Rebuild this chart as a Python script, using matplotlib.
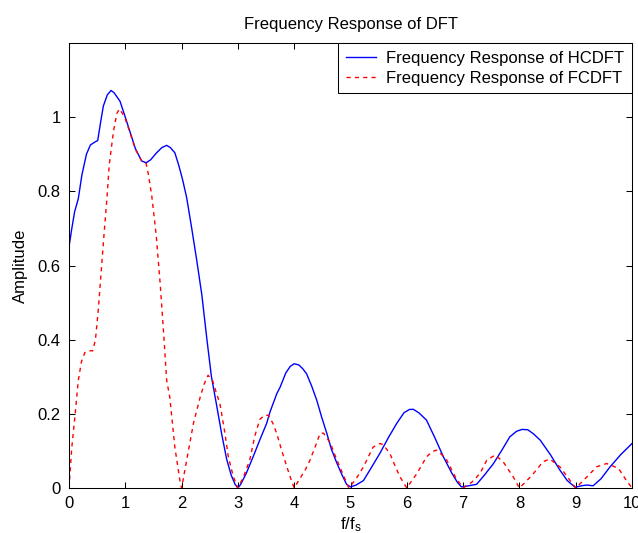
import matplotlib
matplotlib.use("Agg")
import matplotlib.pyplot as plt

plt.rcParams['font.family'] = ['Liberation Sans', 'DejaVu Sans']
plt.rcParams['mathtext.fontset'] = 'custom'
plt.rcParams['mathtext.rm'] = 'Liberation Sans'
plt.rcParams['mathtext.it'] = 'Liberation Sans'

# HCDFT response (blue, solid)
hcdft_f = [0.00, 0.05, 0.10, 0.165, 0.23, 0.31, 0.38, 0.46, 0.51, 0.56, 0.61, 0.68,
           0.746, 0.80, 0.906, 1.00, 1.08, 1.18, 1.29, 1.37, 1.45, 1.55, 1.65, 1.735,
           1.80, 1.88, 1.95, 2.02, 2.09, 2.18, 2.27, 2.36, 2.45, 2.53, 2.62, 2.71,
           2.80, 2.88, 2.95, 3.00, 3.05, 3.15, 3.27, 3.39, 3.51, 3.57, 3.69, 3.75,
           3.85, 3.93, 4.00, 4.08, 4.15, 4.22, 4.31, 4.40, 4.49, 4.58, 4.66, 4.75,
           4.85, 4.93, 5.00, 5.10, 5.23, 5.37, 5.52, 5.67, 5.82, 5.95, 6.05, 6.12,
           6.22, 6.35, 6.50, 6.65, 6.80, 6.90, 6.97, 7.10, 7.24, 7.38, 7.54, 7.68,
           7.83, 7.95, 8.05, 8.15, 8.25, 8.37, 8.55, 8.72, 8.85, 8.99, 9.10, 9.20,
           9.31, 9.45, 9.61, 9.80, 10.00]
hcdft_amp = [0.650, 0.700, 0.745, 0.780, 0.845, 0.900, 0.925, 0.933, 0.937, 0.985, 1.030, 1.060,
             1.072, 1.066, 1.043, 1.000, 0.962, 0.915, 0.882, 0.877, 0.885, 0.903, 0.918, 0.924,
             0.918, 0.904, 0.870, 0.830, 0.783, 0.700, 0.613, 0.520, 0.400, 0.300, 0.225, 0.147,
             0.078, 0.035, 0.010, 0.000, 0.010, 0.040, 0.084, 0.130, 0.174, 0.205, 0.254, 0.272,
             0.310, 0.328, 0.335, 0.332, 0.322, 0.308, 0.275, 0.237, 0.190, 0.147, 0.105, 0.070,
             0.035, 0.010, 0.003, 0.008, 0.020, 0.055, 0.093, 0.135, 0.174, 0.203, 0.212, 0.212,
             0.202, 0.183, 0.135, 0.084, 0.040, 0.015, 0.003, 0.006, 0.010, 0.035, 0.066, 0.100,
             0.138, 0.153, 0.158, 0.157, 0.146, 0.129, 0.090, 0.048, 0.020, 0.002, 0.006, 0.008,
             0.006, 0.025, 0.057, 0.090, 0.120]

# FCDFT response (red, dashed)
fcdft_f = [0.00, 0.05, 0.11, 0.165, 0.22, 0.28, 0.35, 0.42, 0.47, 0.52, 0.57, 0.62, 0.67,
           0.716, 0.79, 0.85, 0.894, 0.95, 1.00, 1.08, 1.18, 1.29, 1.37, 1.41, 1.47, 1.55,
           1.62, 1.68, 1.735, 1.79, 1.88, 1.97, 2.00, 2.09, 2.21, 2.33, 2.40, 2.47, 2.55,
           2.62, 2.68, 2.77, 2.83, 2.92, 3.00, 3.10, 3.21, 3.30, 3.39, 3.47, 3.54, 3.62,
           3.69, 3.78, 3.87, 3.94, 4.00, 4.10, 4.20, 4.28, 4.37, 4.46, 4.52, 4.64, 4.72,
           4.81, 4.90, 4.97, 5.10, 5.23, 5.40, 5.52, 5.58, 5.70, 5.79, 5.88, 6.00, 6.09,
           6.18, 6.35, 6.45, 6.53, 6.62, 6.71, 6.86, 7.00, 7.15, 7.30, 7.42, 7.57, 7.71,
           7.89, 8.00, 8.12, 8.25, 8.42, 8.54, 8.72, 8.90, 9.00, 9.20, 9.37, 9.55, 9.76,
           9.88, 10.00]
fcdft_amp = [0.000, 0.110, 0.200, 0.290, 0.340, 0.365, 0.370, 0.370, 0.400, 0.480, 0.580, 0.680, 0.774,
             0.873, 0.962, 1.010, 1.022, 1.010, 0.995, 0.960, 0.913, 0.882, 0.875, 0.846, 0.788, 0.680,
             0.550, 0.420, 0.290, 0.245, 0.110, 0.020, 0.000, 0.075, 0.174, 0.245, 0.280, 0.304, 0.290,
             0.255, 0.228, 0.147, 0.084, 0.030, 0.000, 0.030, 0.075, 0.140, 0.185, 0.196, 0.196, 0.175,
             0.147, 0.100, 0.057, 0.025, 0.000, 0.025, 0.050, 0.075, 0.110, 0.147, 0.148, 0.122, 0.090,
             0.057, 0.025, 0.000, 0.025, 0.057, 0.110, 0.120, 0.117, 0.093, 0.060, 0.030, 0.000, 0.020,
             0.039, 0.084, 0.098, 0.102, 0.090, 0.075, 0.030, 0.000, 0.015, 0.039, 0.075, 0.089, 0.071,
             0.030, 0.000, 0.018, 0.039, 0.071, 0.078, 0.057, 0.020, 0.000, 0.030, 0.057, 0.066, 0.053,
             0.025, 0.000]

fig = plt.figure(figsize=(6.38, 5.33), dpi=100)
ax = fig.add_axes([69 / 638, 45 / 533, 563 / 638, 445 / 533])

ax.plot(hcdft_f, hcdft_amp, color='b', lw=1.0, label='Frequency Response of HCDFT')
ax.plot(fcdft_f, fcdft_amp, color='r', lw=1.0, ls=(0, (3, 3)), label='Frequency Response of FCDFT')

ax.set_xlim(0, 10)
ax.set_ylim(0, 1.2)
ax.set_xticks(range(11))
ax.set_yticks([0, 0.2, 0.4, 0.6, 0.8, 1.0])
ax.set_yticklabels(['0', '0.2', '0.4', '0.6', '0.8', '1'])
ax.tick_params(direction='in', length=4.3, width=0.75, top=True, right=True,
               labelsize=12, pad=6)
for s in ax.spines.values():
    s.set_linewidth(0.75)

ax.set_title('Frequency Response of DFT', fontsize=12, pad=10)
ax.set_xlabel(r'f/f$_\mathrm{s}$', fontsize=12, labelpad=3)
ax.set_ylabel('Amplitude', fontsize=12, labelpad=7)

leg = ax.legend(loc='upper right', fontsize=12, borderaxespad=0, fancybox=False,
                edgecolor='k', framealpha=1, handlelength=1.8, handletextpad=0.66,
                labelspacing=0.3, borderpad=0.45)
leg.get_frame().set_linewidth(0.75)

fig.savefig('out.png', dpi=100)
